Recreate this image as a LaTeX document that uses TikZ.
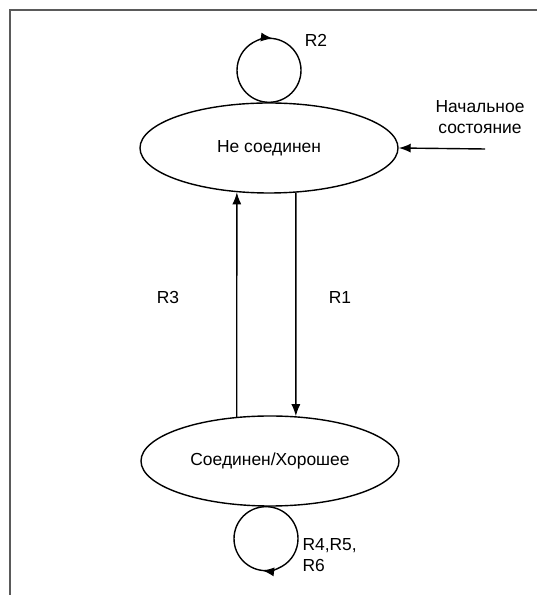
\documentclass[tikz,border=0pt]{standalone}
\usepackage{fontspec}
\setmainfont{Liberation Sans}
\usetikzlibrary{shapes.geometric,arrows.meta}
\definecolor{framecolor}{HTML}{5A5A5A}

\begin{document}
\begin{tikzpicture}[x=1bp,y=1bp,
		state/.style={draw, ellipse, line width=1.4bp, minimum width=258bp, minimum height=90bp, inner sep=0pt},
		arrowline/.style={line width=1.4bp, -{Latex[length=12bp,width=9bp]}},
		every node/.style={font=\fontsize{17.5}{21.5}\selectfont}]
		\def\radius{32}
		\useasboundingbox (0,0) rectangle (537,595);
		\draw[line width=2bp, framecolor] (537,585) -- (10,585) -- (10,0);
		\node[state] (nc) at (269,447) {Не соединен};
		\node[state] (cg) at (270,134) {Соединен/Хорошее};
		\coordinate (start) at (485,446);
		\node[align=center] (startlbl) at (480,478) {Начальное\\состояние};
		\draw[arrowline] (start) -- (nc.east);
		\draw[arrowline] (cg.127) -- (nc.234);
		\draw[arrowline] (nc.-59.5) -- (cg.60.4);
		\draw[line width=1.4bp] (nc.north) arc[start angle=-90, end angle=90, radius=\radius];
		\draw[arrowline] (nc.north) arc[start angle=-90, end angle=-277, radius=\radius];
		\draw[line width=1.4bp] (cg.265) arc[start angle=90, end angle=270, radius=\radius];
		\draw[arrowline] (cg.265) arc[start angle=90, end angle=-97, radius=\radius];
		\foreach \x/\y/\name in {316/555/R2, 168/297/R3, 340/297/R1}
		{
			\node (lbl\name) at (\x,\y) {\name};
		};
		\node[anchor=west, align=left] (lblrest) at (299,40) {R4,R5,\\R6};
	\end{tikzpicture}
\end{document}
